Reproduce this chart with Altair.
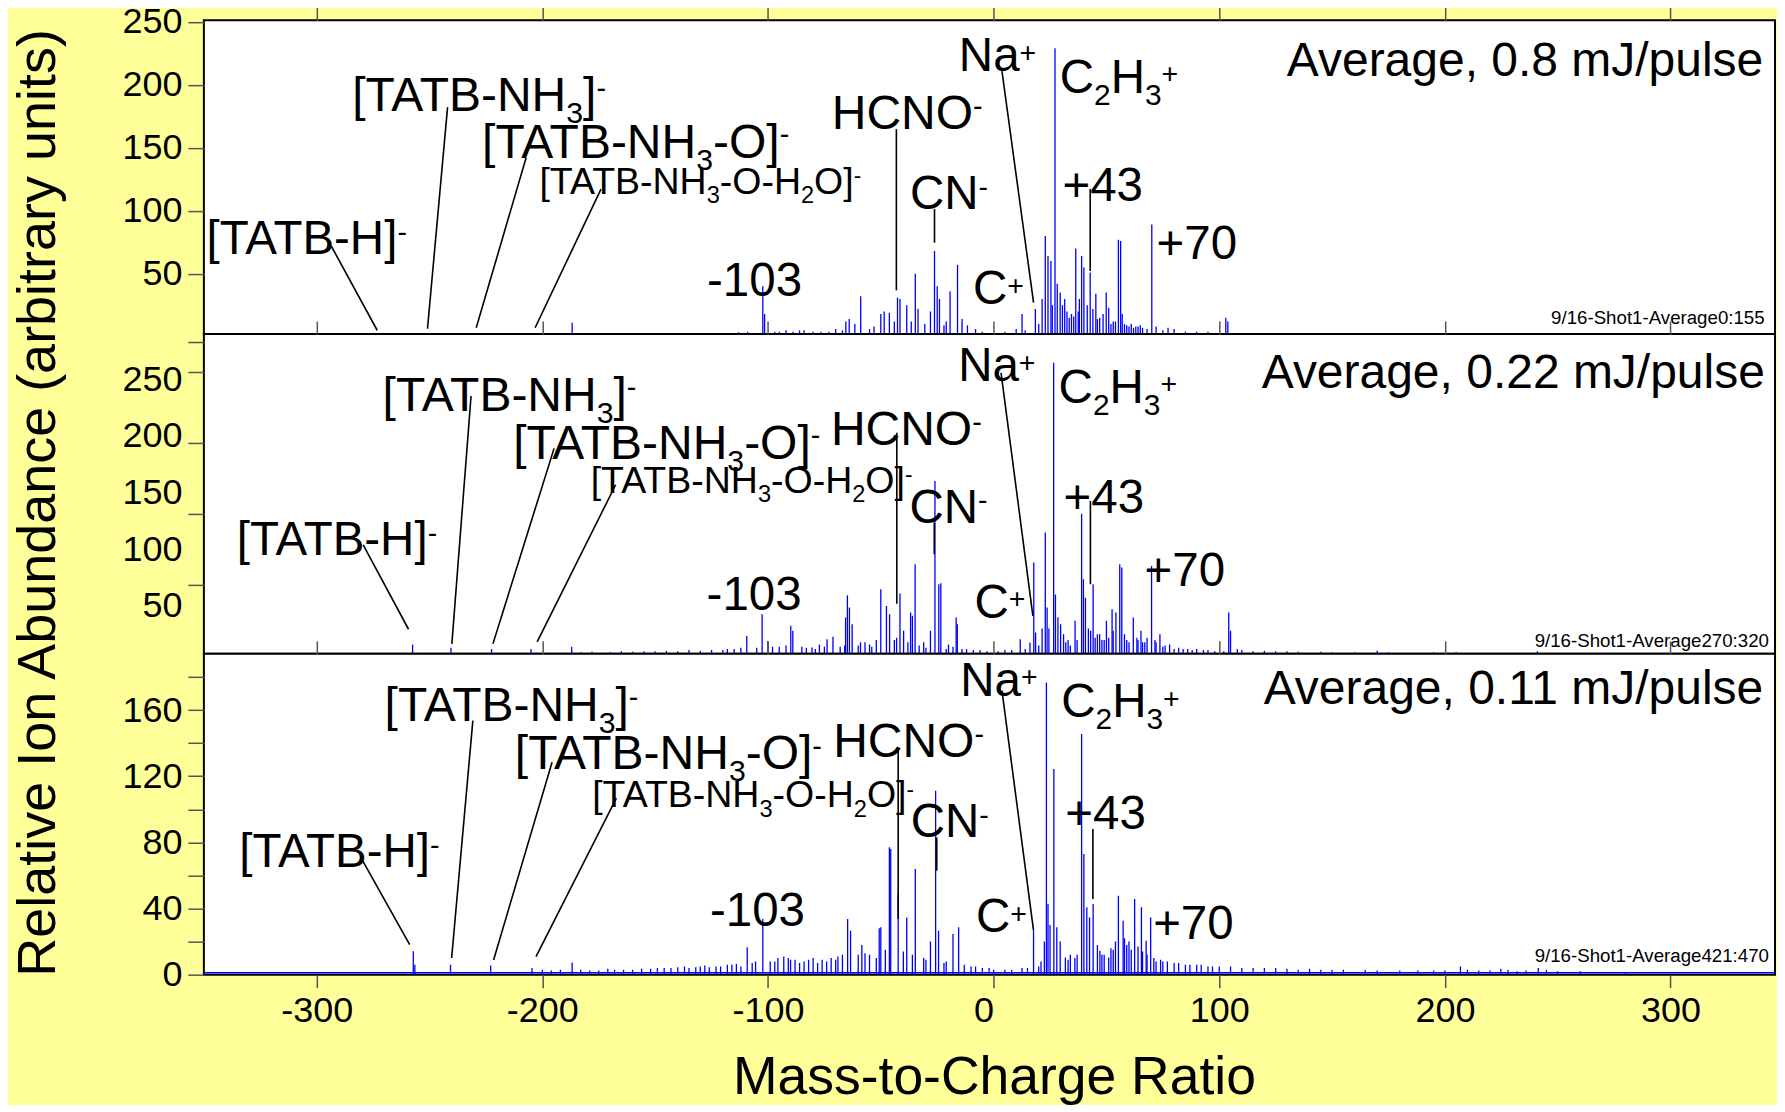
import altair as alt
import pandas as pd

FONT = "Liberation Sans"
BG = "#FFFF99"
BLUE = "#0000FF"
XDOM = [-350, 346.3]
PLOT_W = 1572
X_TICKS = [-300, -200, -100, 0, 100, 200, 300]

# ---------------- Panel 1 (0.8 mJ/pulse) peaks ----------------
p1_mz = [-186.8, -164.7, -130.0, -118.9, -109.0, -102.3, -101.5, -97.0, -92.0, -88.9,
         -84.0, -80.0, -76.5, -65.5, -64.0, -61.5, -58.9, -55.0, -50.0, -48.5,
         -46.2, -44.0, -42.6, -41.5, -38.5, -34.7, -33.5, -28.0, -26.2, -25.0,
         -24.0, -19.3, -16.0, -14.0, -11.6, -5.0, 5.0, 10.0, 12.6, 18.5,
         20.0, 22.9, 24.1, 25.4, 27.2, 28.2, 29.5, 30.5, 31.5, 32.5,
         33.5, 34.5, 36.4, 39.0, 40.0, 42.8, 45.3, 47.0, 49.9, 51.0,
         53.0, 55.3, 56.3, 58.0, 60.0, 62.0, 64.0, 66.0, 70.1, 72.0,
         77.3, 85.0, 102.9, 103.8]
p1_ab = [11, 3, 2.5, 3, 4, 40, 18, 4, 5, 4,
         5, 4, 4, 12, 14, 10, 32, 6, 18, 20,
         19, 12, 31, 30, 25, 50, 22, 20, 68, 40,
         30, 36, 57, 14, 9, 4, 4, 6, 18, 22,
         10, 80, 64, 60, 229, 42, 35, 25, 30, 20,
         15, 18, 70, 64, 55, 51, 34, 15, 35, 23,
         12, 77, 76, 10, 8, 7, 8, 7, 89, 8,
         7, 4, 15, 12]
p1_noise_mz = [-150.0, -140.0, -124.0, -113.0, -95.0, -86.0, -73.0, -70.0, -67.0, -53.0,
               -36.5, -30.5, -22.0, -21.0, -8.0, 14.0, 21.5, 26.0, 35.5, 37.5,
               38.0, 41.5, 44.0, 46.0, 48.5, 52.0, 54.0, 57.0, 59.0, 61.0,
               63.0, 65.0, 68.0, 75.0, 80.0, 90.0, 95.0]
p1_noise_ab = [2.5, 3, 3, 3.5, 4, 5, 4, 6, 5, 8,
               12, 10, 9, 12, 6, 5, 30, 25, 16, 20,
               30, 25, 22, 14, 18, 10, 12, 18, 9, 10,
               8, 9, 6, 5, 6, 4, 4]

# ---------------- Panel 2 (0.22 mJ/pulse) peaks ----------------
p2_mz = [-257.5, -240.5, -222.5, -205.0, -187.0, -170.0, -160.0, -150.0, -140.0, -130.0,
         -125.0, -120.0, -115.0, -109.4, -105.0, -102.6, -100.0, -95.0, -89.9, -89.0,
         -85.0, -80.5, -77.2, -73.8, -71.2, -68.0, -65.6, -64.8, -63.9, -62.7,
         -60.0, -57.0, -54.0, -50.0, -47.5, -46.1, -44.0, -41.5, -39.9, -36.8,
         -36.0, -34.8, -31.0, -28.0, -26.0, -24.3, -23.4, -20.0, -16.6, -16.1,
         -12.0, -6.0, 5.0, 11.8, 16.1, 17.8, 18.6, 22.9, 23.7, 24.5,
         26.6, 27.4, 28.5, 29.7, 31.0, 33.0, 36.1, 39.0, 39.8, 40.7,
         42.0, 44.1, 46.0, 48.0, 50.0, 52.5, 54.2, 55.9, 56.8, 59.0,
         61.9, 63.5, 65.3, 67.0, 70.0, 71.5, 73.7, 76.0, 78.0, 82.0,
         86.0, 90.0, 95.0, 104.2, 105.0, 110.0, 120.0, 130.0, 145.0, 170.0,
         205.0, 241.0]
p2_ab = [16, 13, 12, 12, 14, 9, 9.5, 10, 10, 10.5,
         11, 11, 12, 23.5, 13, 42.6, 19, 14, 32.4, 28,
         14, 13.3, 16, 20.6, 22.7, 14, 39.7, 59.4, 48.5, 33.8,
         15, 18, 14, 64.7, 50, 42.6, 20, 60.9, 28, 44.1,
         41.2, 86.7, 18, 28, 160.2, 69.1, 70, 16, 39.7, 33.8,
         12, 11, 11, 20.6, 17.7, 88.2, 26.5, 114.7, 48.5, 30,
         264.6, 60, 40, 33.8, 25, 20, 36.8, 131.4, 73.5, 57.3,
         30, 69.1, 25, 20, 36.8, 47.1, 44.1, 86.7, 83.8, 20,
         39.7, 22, 28, 18, 85.3, 20, 25, 15, 16, 13,
         12, 12, 11, 44.1, 28, 11, 10.5, 10, 9.5, 10.5,
         9, 10]
p2_noise_mz = [-183.0, -178.0, -165.0, -155.0, -145.0, -135.0, -118.0, -112.0, -98.0, -92.0,
               -83.0, -79.0, -75.0, -66.0, -59.0, -55.0, -52.0, -43.0, -38.0, -33.0,
               -30.0, -21.0, -18.0, -14.0, -9.0, -3.0, 2.0, 8.0, 14.0, 20.0,
               21.5, 32.0, 34.0, 37.0, 43.0, 45.0, 47.0, 49.0, 51.0, 53.0,
               58.0, 60.0, 64.0, 66.0, 68.0, 72.0, 75.0, 80.0, 84.0, 88.0,
               93.0, 98.0, 102.0, 108.0, 115.0, 125.0, 135.0, 150.0, 160.0, 175.0,
               185.0, 195.0, 215.0, 230.0, 250.0]
p2_noise_ab = [9, 9.5, 10, 10, 10.5, 11, 12, 13, 14, 15,
               13, 12, 14, 15, 18, 16, 20, 22, 18, 15,
               13, 12, 14, 12, 11, 10, 10, 11, 12, 15,
               30, 18, 15, 20, 28, 22, 25, 20, 22, 28,
               25, 18, 20, 18, 22, 18, 14, 12, 12, 11,
               11, 10, 10, 12, 10, 10, 9.5, 9, 9, 9,
               8.5, 9, 8.5, 8.5, 8.5]

# ---------------- Panel 3 (0.11 mJ/pulse) peaks ----------------
p3_mz = [-257.2, -256.5, -240.7, -222.9, -204.6, -186.8, -175.0, -168.0, -160.0, -152.0,
         -146.0, -140.0, -135.0, -130.0, -126.0, -121.0, -116.0, -112.0, -109.2, -105.5,
         -102.3, -99.0, -95.6, -93.0, -90.0, -86.0, -82.0, -78.0, -74.0, -70.0,
         -67.0, -64.7, -63.4, -58.4, -55.0, -52.0, -50.7, -50.0, -46.2, -45.6,
         -42.3, -38.5, -34.7, -31.0, -28.0, -25.7, -24.4, -21.0, -18.0, -15.5,
         -10.0, -5.0, 0.0, 5.0, 12.6, 17.7, 20.0, 23.4, 24.1, 25.0,
         26.7, 28.0, 29.5, 31.8, 34.0, 36.0, 39.0, 40.0, 41.3, 42.5,
         44.1, 47.1, 49.0, 51.0, 53.0, 55.3, 57.4, 60.0, 62.5, 65.5,
         67.6, 69.6, 72.0, 75.0, 80.0, 85.0, 90.0, 95.0, 100.0, 110.0,
         120.0, 130.0, 140.0, 150.0, 164.7, 180.0, 195.0, 206.9, 215.0, 224.8,
         232.0, 241.4, 260.0, 280.0]
p3_ab = [14.1, 6, 6, 5.5, 4, 7.4, 2.5, 3, 3, 3.5,
         4, 4.5, 4, 5, 4.5, 5, 6, 5, 16.5, 8,
         33.6, 8, 10, 11, 9, 7, 9, 7, 8, 9,
         12, 33.6, 26.5, 18, 12, 10, 28, 28.6, 77, 76,
         48.7, 34.6, 63.9, 10, 20, 111.2, 26.6, 8, 24.6, 28.6,
         5, 4, 3, 3, 4, 26.6, 5, 176.7, 42.7, 30,
         124.3, 28.6, 20, 10.4, 12, 10, 145.5, 72.9, 40.7, 34.6,
         42.7, 14.5, 12, 10.4, 15, 47.7, 32.6, 20, 45.7, 40.7,
         20.5, 34.6, 8, 8, 7, 6, 6, 5, 5, 4,
         4, 3.5, 3.5, 3, 3, 2.5, 2.5, 5, 2.5, 3.5,
         2, 4, 2, 1.5]
p3_noise_mz = [-200.0, -196.0, -192.0, -183.0, -179.0, -171.0, -164.0, -156.0, -149.0, -143.0,
               -137.0, -132.0, -128.0, -123.0, -118.0, -114.0, -107.0, -97.0, -91.0, -88.0,
               -84.0, -80.0, -76.0, -72.0, -69.0, -60.0, -57.0, -48.0, -40.0, -36.0,
               -30.0, -22.0, -13.0, -8.0, -2.0, 8.0, 15.0, 21.0, 22.5, 33.0,
               37.0, 46.0, 48.0, 52.0, 54.0, 58.0, 59.0, 61.0, 64.0, 66.0,
               68.0, 71.0, 74.0, 77.0, 82.0, 87.0, 92.0, 97.0, 105.0, 115.0,
               125.0, 135.0, 145.0, 155.0, 170.0, 188.0, 200.0, 210.0, 220.0, 228.0,
               236.0, 245.0, 250.0]
p3_noise_ab = [3, 2.5, 3, 3, 2.5, 3.5, 3, 3.5, 4, 4,
               5, 4.5, 5.5, 5, 6, 6.5, 7, 8, 10, 9,
               8, 10, 9, 10, 11, 12, 13, 15, 14, 12,
               9, 7, 6, 5, 4, 3, 4, 8, 20, 9,
               12, 18, 12, 16, 20, 22, 18, 15, 17, 14,
               12, 10, 9, 8, 7, 6, 6, 5, 5, 4,
               4, 3, 3, 3, 2.5, 2.5, 2.5, 3, 2.5, 3,
               2.5, 3, 2]

# ---------------- Annotation labels: segments (text, kind) ----------------
LABELS = [
    [("[TATB-H]", "n"), ("-", "sup")],
    [("[TATB-NH", "n"), ("3", "sub"), ("]", "n"), ("-", "sup")],
    [("[TATB-NH", "n"), ("3", "sub"), ("-O]", "n"), ("-", "sup")],
    [("[TATB-NH", "n"), ("3", "sub"), ("-O-H", "n"), ("2", "sub"), ("O]", "n"), ("-", "sup")],
    [("-103", "n")],
    [("HCNO", "n"), ("-", "sup")],
    [("CN", "n"), ("-", "sup")],
    [("Na", "n"), ("+", "sup")],
    [("C", "n"), ("+", "sup")],
    [("C", "n"), ("2", "sub"), ("H", "n"), ("3", "sub"), ("+", "sup")],
    [("+43", "n")],
    [("+70", "n")],
]
L_SIZE = [47.5, 48, 48, 37.5, 47.5, 48, 47.5, 47.5, 47.5, 47.5, 47.5, 47.5]

p1_lx = [-348.8, -284.3, -226.7, -201.3, -127.0, -71.7, -37.1, -15.4, -9.1, 29.3, 30.5, 72.2]
p1_ly = [65.6, 179.0, 142.0, 113.3, 32.3, 164.8, 101.3, 210.9, 25.7, 193.7, 107.7, 61.4]
p2_lx = [-335.4, -270.8, -212.9, -178.6, -127.2, -72.1, -37.3, -15.7, -8.5, 28.8, 31.0, 66.9]
p2_ly = [94.6, 222.1, 180.0, 149.8, 46.5, 192.0, 123.5, 248.4, 39.7, 229.3, 132.3, 67.6]
p3_lx = [-334.3, -269.9, -212.2, -177.9, -125.7, -71.1, -36.7, -14.8, -7.8, 30.0, 31.8, 70.7]
p3_ly = [64.9, 153.6, 124.4, 101.1, 29.6, 131.4, 83.0, 168.7, 25.6, 155.6, 88.1, 21.6]

# leader lines: (x1, y1, x2, y2)
p1_lead = [(-293.5, 71.8, -273.2, 5.1), (-242.0, 182.3, -250.9, 6.3), (-207.2, 142.0, -229.3, 7.1),
           (-174.0, 117.2, -203.2, 7.1), (-43.1, 164.8, -43.1, 36.8), (-26.2, 101.3, -26.2, 74.6),
           (3.7, 210.9, 17.7, 27.0), (42.8, 117.2, 42.8, 52.1)]
p2_lead = [(-279.4, 103.8, -259.3, 29.4), (-231.6, 235.2, -240.1, 16.5), (-194.8, 189.0, -221.9, 16.5),
           (-167.5, 156.9, -202.3, 18.3), (-42.9, 202.8, -42.9, 52.0), (-26.3, 123.5, -26.3, 95.6),
           (3.3, 255.7, 17.4, 41.2), (42.9, 142.6, 42.9, 69.1)]
p3_lead = [(-280.1, 70.0, -258.8, 18.1), (-230.8, 153.6, -240.2, 10.1), (-195.7, 128.4, -221.6, 8.9),
           (-167.2, 106.8, -202.8, 10.9), (-42.3, 136.5, -42.3, 33.7), (-25.2, 83.0, -25.2, 62.9),
           (3.7, 171.7, 17.7, 26.6), (44.0, 88.1, 44.0, 45.8)]

# right-aligned texts
R_TEXT1 = ["Average, 0.8 mJ/pulse", "9/16-Shot1-Average0:155"]
R_TEXT2 = ["Average, 0.22 mJ/pulse", "9/16-Shot1-Average270:320"]
R_TEXT3 = ["Average, 0.11 mJ/pulse", "9/16-Shot1-Average421:470"]
R_SIZE = [48, 18.7]
p1_rx, p1_ry = [341.1, 341.7], [206.9, 9.8]
p2_rx, p2_ry = [341.8, 343.6], [242.2, 13.8]
p3_rx, p3_ry = [341.1, 343.6], [163.7, 7.4]

Y_TITLE = "Relative Ion Abundance (arbitrary units)"
X_TITLE = "Mass-to-Charge Ratio"

# Arial / Liberation Sans advance widths (per 1000 em) and kerning for composing sub/superscripts
ADV = {"[": 278, "]": 278, "T": 611, "A": 667, "B": 667, "-": 333, "N": 722, "H": 722,
       "O": 778, "C": 722, "a": 556, "+": 584}
for _d in "0123456789":
    ADV[_d] = 556
KERN = {"TA": -74, "AT": -74}

XPX = PLOT_W / (XDOM[1] - XDOM[0])


def text_w(s, fs):
    w = sum(ADV.get(c, 556) for c in s)
    w += sum(KERN.get(s[i:i + 2], 0) for i in range(len(s) - 1))
    return w / 1000.0 * fs


def compose(segs, x0, y0, fs, ypx):
    rows = []
    off = 0.0
    for s, kind in segs:
        if kind == "n":
            size, dy = fs, 0.0
        elif kind == "sub":
            size, dy = 0.63 * fs, -0.25 * fs
        else:
            size, dy = 0.6 * fs, (0.28 if s == "-" else 0.2) * fs
        rows.append({"mz": x0 + off / XPX, "ab": y0 + dy / ypx, "txt": s, "fs": size})
        off += text_w(s, size)
    return rows


xs = alt.Scale(domain=XDOM, nice=False, zero=False)

top_axis = alt.Axis(orient="top", values=X_TICKS, labels=False, tickSize=13, tickWidth=1.5,
                    tickColor="#555555", title=None, domain=False, grid=False)
bottom_axis = alt.Axis(orient="bottom", values=X_TICKS, tickSize=13, tickWidth=1.5,
                       tickColor="#555555", domain=False, grid=False,
                       labelExpr="(datum.value < 0 ? '-' : '') + abs(datum.value)",
                       labelAlign={"condition": {"test": "datum.value == 0", "value": "right"},
                                   "value": "center"},
                       labelFontSize=36, labelPadding=6, labelFont=FONT, labelColor="black",
                       labelFlush=False, labelOverlap=False,
                       title=X_TITLE, titleFontSize=53.5, titleFont=FONT, titleFontWeight="normal",
                       titleColor="black", titleBaseline="alphabetic", titleY=118.5,
                       titleX=PLOT_W * (0.5 * (XDOM[1] + XDOM[0]) - XDOM[0] + 2) / (XDOM[1] - XDOM[0]),
                       titleAlign="center")


def yaxis(values, expr=None, tickop=None, title=None):
    kw = dict(values=values, tickSize=16, tickWidth=1.5, tickColor="#555555", labelPadding=6,
              labelFontSize=36, labelFont=FONT, labelColor="black", labelOverlap=False,
              labelFlush=False, domain=False, grid=False, title=title)
    if expr:
        kw["labelExpr"] = expr
    if tickop:
        kw["tickOpacity"] = tickop
    if title:
        kw.update(titleFontSize=54, titleFont=FONT, titleFontWeight="normal", titleColor="black",
                  titleX=-138, titleY=168.5, titleAngle=270, titleAlign="center",
                  titleBaseline="bottom")
    return alt.Axis(**kw)


def panel(mz, ab, ydom, height, ya, ltx, lty, lead, rtext, rx, ry, bottom=False, baseline=None):
    ys = alt.Scale(domain=ydom, nice=False, zero=False)
    ypx = height / (ydom[1] - ydom[0])
    peaks = alt.Chart(pd.DataFrame({"mz": mz, "ab": ab})).mark_rule(
        color=BLUE, strokeWidth=1.3, clip=True).encode(
        x=alt.X("mz:Q", scale=xs, axis=top_axis),
        y=alt.Y("ab:Q", scale=ys, axis=ya),
        y2=alt.datum(ydom[0]))
    lead_df = pd.DataFrame(lead, columns=["mz", "ab", "mz2", "ab2"])
    leaders = alt.Chart(lead_df).mark_rule(color="black", strokeWidth=1.6).encode(
        x=alt.X("mz:Q", scale=xs, axis=bottom_axis if bottom else None),
        x2="mz2:Q",
        y=alt.Y("ab:Q", scale=ys, axis=None),
        y2="ab2:Q")
    rows = []
    for segs, x0, y0, fs in zip(LABELS, ltx, lty, L_SIZE):
        rows += compose(segs, x0, y0, fs, ypx)
    ltext = alt.Chart(pd.DataFrame(rows)).mark_text(
        align="left", baseline="alphabetic", font=FONT, color="black").encode(
        x=alt.X("mz:Q", scale=xs, axis=None),
        y=alt.Y("ab:Q", scale=ys, axis=None),
        text="txt:N",
        size=alt.Size("fs:Q", scale=None, legend=None))
    rdf = pd.DataFrame({"mz": rx, "ab": ry, "txt": rtext, "fs": R_SIZE})
    rt = alt.Chart(rdf).mark_text(align="right", baseline="alphabetic", font=FONT,
                                  color="black").encode(
        x=alt.X("mz:Q", scale=xs, axis=None),
        y=alt.Y("ab:Q", scale=ys, axis=None),
        text="txt:N",
        size=alt.Size("fs:Q", scale=None, legend=None))
    layers = [peaks]
    if baseline is not None:
        bdf = pd.DataFrame({"mz": [XDOM[0]], "mz2": [XDOM[1]], "ab": [baseline]})
        layers.append(alt.Chart(bdf).mark_rule(color=BLUE, strokeWidth=1.5).encode(
            x=alt.X("mz:Q", scale=xs, axis=None), x2="mz2:Q",
            y=alt.Y("ab:Q", scale=ys, axis=None)))
    layers += [leaders, ltext, rt]
    return alt.layer(*layers).resolve_axis(x="independent", y="independent").properties(
        width=PLOT_W, height=height)


ya1 = yaxis([50, 100, 150, 200, 250])
p2_vals = [5.9, 50, 68.2, 100, 131.4, 150, 194.0, 200, 250, 256.6, 283.0]
ya2 = yaxis(p2_vals, expr="datum.value % 50 == 0 ? datum.value + '' : ''",
            tickop={"condition": {"test": "datum.value % 50 == 0", "value": 0}, "value": 1},
            title=Y_TITLE)
ya3 = yaxis([0, 20, 40, 60, 80, 100, 120, 140, 160, 180],
            expr="datum.value % 40 == 0 ? datum.value + '' : ''")

c1 = panel(p1_mz + p1_noise_mz, p1_ab + p1_noise_ab, [2.1, 251.3], 314, ya1,
           p1_lx, p1_ly, p1_lead, R_TEXT1, p1_rx, p1_ry)
c2 = panel(p2_mz + p2_noise_mz, p2_ab + p2_noise_ab, [7.7, 289.9], 320, ya2,
           p2_lx, p2_ly, p2_lead, R_TEXT2, p2_rx, p2_ry)
c3 = panel(p3_mz + p3_noise_mz, p3_ab + p3_noise_ab, [0, 194], 321, ya3,
           p3_lx, p3_ly, p3_lead, R_TEXT3, p3_rx, p3_ry, bottom=True, baseline=1.2)

chart = alt.vconcat(c1, c2, c3, spacing=0, bounds="flush").configure(
    background=BG, padding={"left": 2, "top": -6.1, "right": 0, "bottom": 0}
).configure_view(fill="white", stroke="black", strokeWidth=2)

chart.save("out.html", embed_options={"renderer": "svg", "actions": False})
